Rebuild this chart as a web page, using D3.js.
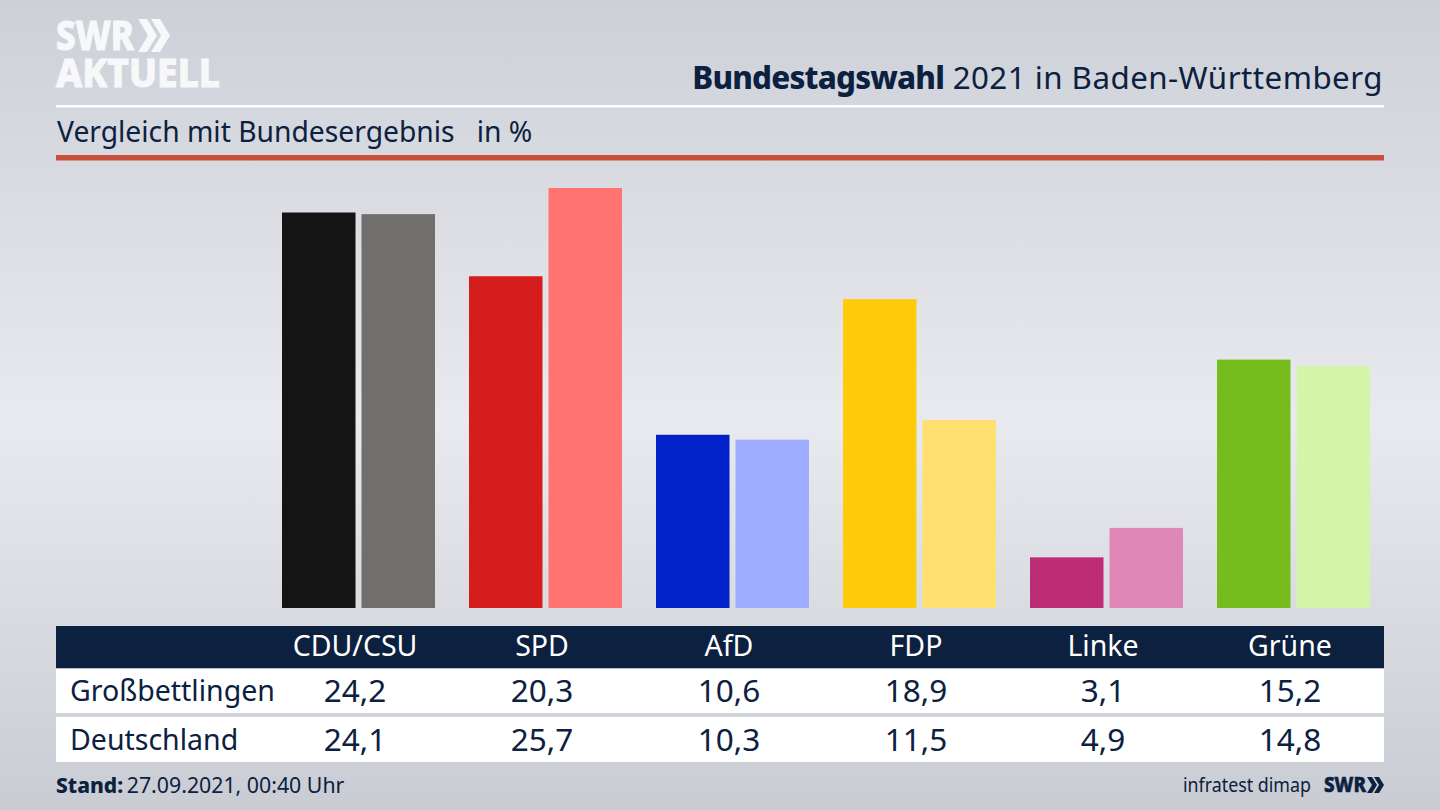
<!DOCTYPE html>
<html>
<head>
<meta charset="utf-8">
<script src="https://cdn.jsdelivr.net/npm/d3@7"></script>
<style>
  html, body { margin: 0; padding: 0; background: #d8dae0; }
  svg { display: block; }
  text { font-family: "Noto Sans", sans-serif; fill: #0c2040; }
</style>
</head>
<body>
<svg id="chart" width="1440" height="810"></svg>
<script>
const parties = ["CDU/CSU", "SPD", "AfD", "FDP", "Linke", "Grüne"];
const seriesNames = ["Großbettlingen", "Deutschland"];
const localValues = [24.2, 20.3, 10.6, 18.9, 3.1, 15.2];
const federalValues = [24.1, 25.7, 10.3, 11.5, 4.9, 14.8];
const localColors = ["#141414", "#d61d1d", "#0022c8", "#ffcb0a", "#bd2d76", "#76bc1c"];
const federalColors = ["#706f6d", "#ff7370", "#9eadff", "#ffe06e", "#df88b8", "#d3f5a8"];

const navy = "#0c2040";
const logoWhite = "#f7f8fa";
const svg = d3.select("#chart");

// Background
const defs = svg.append("defs");
const bg = defs.append("linearGradient")
  .attr("id", "bg").attr("x1", 0).attr("y1", 0).attr("x2", 0).attr("y2", 1);
bg.append("stop").attr("offset", "0%").attr("stop-color", "#cdd0d7");
bg.append("stop").attr("offset", "52%").attr("stop-color", "#e9eaef");
bg.append("stop").attr("offset", "100%").attr("stop-color", "#c9ccd3");
svg.append("rect").attr("width", 1440).attr("height", 810).attr("fill", "url(#bg)");

// double chevron used in both logos
function chevrons(x0, top, bottom, width, thick, step, color) {
  const mid = (top + bottom) / 2;
  [0, step].forEach(dx => {
    const a = x0 + dx;
    svg.append("path")
      .attr("d", `M${a} ${top} L${a + thick} ${top} L${a + width} ${mid} L${a + thick} ${bottom} L${a} ${bottom} L${a + width - thick} ${mid} Z`)
      .attr("fill", color);
  });
}

// Logo
svg.append("text").attr("x", 56).attr("y", 50)
  .attr("font-size", 41).attr("font-weight", 800)
  .style("fill", logoWhite).style("stroke", logoWhite).style("stroke-width", 1)
  .attr("textLength", 78).attr("lengthAdjust", "spacingAndGlyphs").text("SWR");
chevrons(138, 19, 52, 19, 9, 13, logoWhite);
svg.append("text").attr("x", 56).attr("y", 87)
  .attr("font-size", 40).attr("font-weight", 800)
  .style("fill", logoWhite).style("stroke", logoWhite).style("stroke-width", 1)
  .attr("textLength", 164).attr("lengthAdjust", "spacingAndGlyphs").text("AKTUELL");

// Header
const title = svg.append("text").attr("x", 1383).attr("y", 89)
  .attr("text-anchor", "end").attr("font-size", 31.3);
title.append("tspan").attr("font-weight", 800).style("letter-spacing", "-0.8px").text("Bundestagswahl");
title.append("tspan").style("letter-spacing", "0.46px").text(" 2021 in Baden-Württemberg");

svg.append("rect").attr("x", 56).attr("y", 105).attr("width", 1328).attr("height", 2.5).attr("fill", "#fff");

svg.append("text").attr("x", 57).attr("y", 142).attr("font-size", 28.25)
  .style("white-space", "pre")
  .text("Vergleich mit Bundesergebnis   in %");

svg.append("rect").attr("x", 56).attr("y", 155).attr("width", 1328).attr("height", 5.5).attr("fill", "#c8503c");

// Scales
const x = d3.scaleBand().domain(parties).range([265, 1387]);
const xSub = d3.scaleBand().domain(seriesNames).range([17, 170]).paddingInner(0.0755);
const y = d3.scaleLinear().domain([0, 25.7]).range([608, 188]);

// Bars
const groups = svg.selectAll("g.party").data(parties).join("g")
  .attr("class", "party")
  .attr("transform", d => `translate(${x(d)},0)`);

groups.append("rect")
  .attr("x", xSub(seriesNames[0]))
  .attr("width", xSub.bandwidth())
  .attr("y", (d, i) => y(localValues[i]))
  .attr("height", (d, i) => y(0) - y(localValues[i]))
  .attr("fill", (d, i) => localColors[i]);

groups.append("rect")
  .attr("x", xSub(seriesNames[1]))
  .attr("width", xSub.bandwidth())
  .attr("y", (d, i) => y(federalValues[i]))
  .attr("height", (d, i) => y(0) - y(federalValues[i]))
  .attr("fill", (d, i) => federalColors[i]);

// Table
const fmt = v => d3.format(".1f")(v).replace(".", ",");
const colX = d => x(d) + x.bandwidth() / 2 - 3.5;

svg.append("rect").attr("x", 56).attr("y", 626).attr("width", 1328).attr("height", 42.5).attr("fill", navy);
svg.append("rect").attr("x", 56).attr("y", 668.5).attr("width", 1328).attr("height", 44.5).attr("fill", "#fff");
svg.append("rect").attr("x", 56).attr("y", 717).attr("width", 1328).attr("height", 45).attr("fill", "#fff");

svg.selectAll("text.head").data(parties).join("text")
  .attr("class", "head")
  .attr("x", colX).attr("y", 656)
  .attr("text-anchor", "middle").attr("font-size", 28.5)
  .style("fill", "#fff")
  .text(d => d);

const rows = [
  { name: seriesNames[0], values: localValues, base: 701 },
  { name: seriesNames[1], values: federalValues, base: 750 }
];
rows.forEach(row => {
  svg.append("text").attr("x", 70).attr("y", row.base).attr("font-size", 28.5).text(row.name);
  svg.selectAll(null).data(parties).join("text")
    .attr("x", colX).attr("y", row.base + 1)
    .attr("text-anchor", "middle").attr("font-size", 31.5)
    .text((d, i) => fmt(row.values[i]));
});

// Footer
const stand = svg.append("text").attr("x", 56).attr("y", 793).attr("font-size", 21);
stand.append("tspan").attr("font-weight", 800).text("Stand:");
stand.append("tspan").attr("dx", -2).attr("font-size", 21.3).text(" 27.09.2021, 00:40 Uhr");

svg.append("text").attr("x", 1183).attr("y", 792)
  .attr("font-size", 20).attr("textLength", 128).attr("lengthAdjust", "spacingAndGlyphs")
  .text("infratest dimap");
svg.append("text").attr("x", 1324).attr("y", 792)
  .attr("font-size", 22).attr("font-weight", 800)
  .style("stroke", navy).style("stroke-width", 0.6)
  .attr("textLength", 42).attr("lengthAdjust", "spacingAndGlyphs").text("SWR");
chevrons(1367, 777, 793, 10, 5, 7, navy);
</script>
</body>
</html>
